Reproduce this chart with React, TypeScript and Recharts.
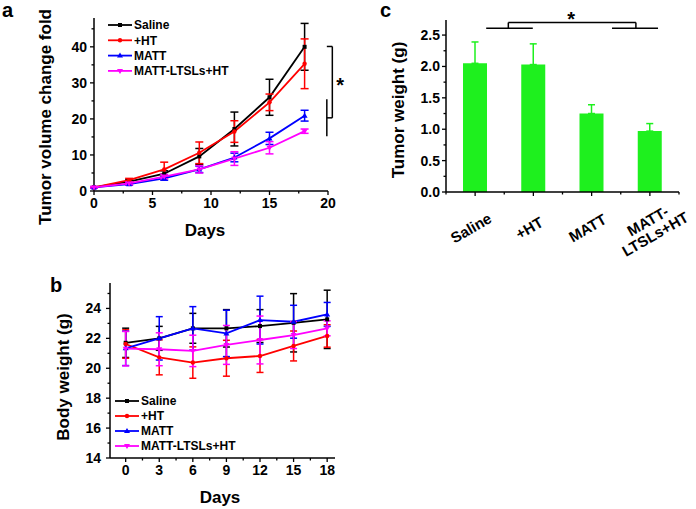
import React from "react";
import {
  LineChart,
  Line,
  BarChart,
  Bar,
  XAxis,
  YAxis,
  ErrorBar,
  Legend,
  Label,
  LabelList,
  ReferenceLine,
  ReferenceDot,
} from "recharts";

const FONT = "'Liberation Sans', Arial, Helvetica, sans-serif";

const groups = ["Saline", "+HT", "MATT", "MATT-LTSLs+HT"];
const groupColors = ["#000000", "#ff0000", "#0000ff", "#ff00ff"];
const groupMarkers = ["square", "circle", "up", "down"];

const days = [0, 3, 6, 9, 12, 15, 18];

// a: tumor volume change fold (mean, sd)
const volSaline = [1, 2.6, 4.8, 9.6, 17.2, 26, 40];
const volSalineSd = [0.2, 0.5, 0.8, 2.2, 4.7, 5.0, 6.5];
const volHT = [1, 3.0, 6.0, 10.6, 16.5, 24.6, 35.3];
const volHTSd = [0.2, 0.5, 2.0, 3.0, 3.0, 2.3, 6.9];
const volMATT = [1, 1.9, 3.5, 6.0, 9.3, 14.6, 20.9];
const volMATTSd = [0.2, 0.3, 0.5, 0.9, 1.2, 1.7, 1.5];
const volLTSL = [1, 2.1, 4.0, 6.0, 9.0, 12.0, 16.6];
const volLTSLSd = [0.2, 0.4, 0.6, 1.0, 1.9, 1.7, 0.6];

// b: body weight (g)
const bwSaline = [21.7, 22.0, 22.67, 22.67, 22.82, 23.04, 23.27];
const bwSalineSd = [0.98, 0.8, 1.0, 1.25, 1.1, 1.95, 1.95];
const bwHT = [21.62, 20.73, 20.38, 20.67, 20.82, 21.49, 22.16];
const bwHTSd = [0.95, 1.17, 1.05, 1.2, 1.1, 1.0, 0.75];
const bwMATT = [21.33, 22.0, 22.67, 22.33, 23.22, 23.11, 23.6];
const bwMATTSd = [1.15, 1.45, 1.45, 1.55, 1.6, 1.1, 0.8];
const bwLTSL = [21.31, 21.27, 21.16, 21.56, 21.89, 22.22, 22.67];
const bwLTSLSd = [1.15, 1.1, 1.05, 1.3, 1.6, 0.9, 0.5];

// c: tumor weight (g)
const weightLabels = [["Saline"], ["+HT"], ["MATT"], ["MATT-", "LTSLs+HT"]];
const weightMean = [2.05, 2.03, 1.25, 0.97];
const weightSd = [0.34, 0.33, 0.14, 0.12];

// ticks
const ticksAX = [0, 2.5, 5, 7.5, 10, 12.5, 15, 17.5, 20];
const majorAX = [0, 5, 10, 15, 20];
const ticksAY = [0, 5, 10, 15, 20, 25, 30, 35, 40, 45];
const majorAY = [0, 10, 20, 30, 40];
const ticksBX = [0, 1.5, 3, 4.5, 6, 7.5, 9, 10.5, 12, 13.5, 15, 16.5, 18];
const ticksBY = [14, 15, 16, 17, 18, 19, 20, 21, 22, 23, 24, 25];
const majorBY = [14, 16, 18, 20, 22, 24];
const ticksCX = [0.5, 1, 1.5, 2, 2.5, 3, 3.5, 4, 4.5];
const majorCX = [1, 2, 3, 4];
const ticksCY = [0, 0.25, 0.5, 0.75, 1, 1.25, 1.5, 1.75, 2, 2.25, 2.5];
const majorCY = [0, 0.5, 1, 1.5, 2, 2.5];

// significance brackets (data coordinates)
const bracketA = [
  [{ x: 19.9, y: 40.1 }, { x: 20.37, y: 40.1 }],
  [{ x: 20.37, y: 40.1 }, { x: 20.37, y: 20.3 }],
  [{ x: 19.9, y: 20.3 }, { x: 20.37, y: 20.3 }],
  [{ x: 19.9, y: 25.45 }, { x: 19.9, y: 15.2 }],
];
const starA = { x: 21.03, y: 30.6 };
const bracketC = [
  [{ x: 1.19, y: 2.61 }, { x: 1.99, y: 2.61 }],
  [{ x: 3.35, y: 2.61 }, { x: 4.14, y: 2.61 }],
  [{ x: 1.57, y: 2.7 }, { x: 3.76, y: 2.7 }],
  [{ x: 1.57, y: 2.61 }, { x: 1.57, y: 2.7 }],
  [{ x: 3.76, y: 2.61 }, { x: 3.76, y: 2.7 }],
];
const starC = { x: 2.65, y: 2.82 };

const volSeries = [volSaline, volHT, volMATT, volLTSL];
const volSd = [volSalineSd, volHTSd, volMATTSd, volLTSLSd];
const bwSeries = [bwSaline, bwHT, bwMATT, bwLTSL];
const bwSd = [bwSalineSd, bwHTSd, bwMATTSd, bwLTSLSd];

const buildRows = (series: number[][], sds: number[][]) =>
  days.map((d, i) => {
    const row: any = { day: d };
    series.forEach((s, k) => {
      row[`g${k}`] = s[i];
      row[`e${k}`] = sds[k][i];
    });
    return row;
  });

const rowsA = buildRows(volSeries, volSd);
const rowsB = buildRows(bwSeries, bwSd);
const rowsC = weightMean.map((m, i) => ({ pos: i + 1, w: m, wErr: [0, weightSd[i]] }));

function marker(shape: string, cx: number, cy: number, color: string, key?: any) {
  if (cx == null || cy == null) return <g key={key} />;
  if (shape === "square")
    return <rect key={key} x={cx - 2} y={cy - 2} width={4} height={4} fill={color} />;
  if (shape === "circle") return <circle key={key} cx={cx} cy={cy} r={2.2} fill={color} />;
  if (shape === "up")
    return <path key={key} d={`M${cx},${cy - 3}L${cx + 3},${cy + 2}L${cx - 3},${cy + 2}Z`} fill={color} />;
  return <path key={key} d={`M${cx},${cy + 3}L${cx + 3},${cy - 2}L${cx - 3},${cy - 2}Z`} fill={color} />;
}

const txt = { fontFamily: FONT, fontWeight: "bold" as const, fill: "#000" };

const xTick = (majors: number[], fs: number, gap: number, showText = true) => (p: any) => {
  const v = p.payload.value;
  const major = majors.includes(v);
  return (
    <g>
      <line x1={p.x} x2={p.x} y1={p.y} y2={p.y + (major ? 4 : 2.5)} stroke="#000" strokeWidth={1.3} />
      {major && showText && (
        <text x={p.x} y={p.y + gap} textAnchor="middle" fontSize={fs} {...txt}>
          {v}
        </text>
      )}
    </g>
  );
};

const yTick = (majors: number[], fs: number, gap: number, fmt: (v: number) => string) => (p: any) => {
  const v = p.payload.value;
  const major = majors.includes(v);
  return (
    <g>
      <line x1={p.x} x2={p.x - (major ? 4 : 2.5)} y1={p.y} y2={p.y} stroke="#000" strokeWidth={1.3} />
      {major && (
        <text x={p.x - gap} y={p.y} dy="0.36em" textAnchor="end" fontSize={fs} {...txt}>
          {fmt(v)}
        </text>
      )}
    </g>
  );
};

// slanted category names, hung under each bar
const catLabel = (p: any) => {
  const lines = weightLabels[p.index] || [];
  const two = lines.length > 1;
  const ox = p.x + p.width / 2 + (two ? -2 : -4);
  const oy = p.y + p.height + (two ? 29 : 36);
  return (
    <g key={`cat-${p.index}`}>
      {lines.map((l, i) => (
        <text
          key={l}
          x={ox}
          y={oy + i * 15}
          dy="0.36em"
          transform={`rotate(-30 ${ox} ${oy})`}
          textAnchor="middle"
          fontSize={15}
          {...txt}
        >
          {l}
        </text>
      ))}
    </g>
  );
};

const vTitle = (text: string, cx: number, dy: number) => (props: any) => {
  const vb = props.viewBox;
  const x = vb.x + cx;
  const y = vb.y + vb.height / 2 + dy;
  return (
    <text x={x} y={y} dy="0.36em" transform={`rotate(-90 ${x} ${y})`} textAnchor="middle" fontSize={17} {...txt}>
      {text}
    </text>
  );
};

const hTitle = (text: string, dx: number, base: number) => (props: any) => {
  const vb = props.viewBox;
  return (
    <text x={vb.x + vb.width / 2 + dx} y={vb.y + base} textAnchor="middle" fontSize={17} {...txt}>
      {text}
    </text>
  );
};

function LegendBox({ step }: { step: number }) {
  return (
    <svg width={170} height={step * 4 + 4} style={{ display: "block" }}>
      {groups.map((g, i) => {
        const y = 7 + i * step;
        return (
          <g key={g}>
            <line x1={3} x2={27} y1={y} y2={y} stroke={groupColors[i]} strokeWidth={1.8} />
            {marker(groupMarkers[i], 15, y, groupColors[i])}
            <text x={29} y={y} dy="0.36em" fontSize={12} {...txt}>
              {g}
            </text>
          </g>
        );
      })}
    </svg>
  );
}

const axisLine = { stroke: "#000", strokeWidth: 1.5 };

function seriesLines(capWidth: number) {
  return groups.map((g, i) => (
    <Line
      key={g}
      type="linear"
      dataKey={`g${i}`}
      name={g}
      stroke={groupColors[i]}
      strokeWidth={1.8}
      isAnimationActive={false}
      activeDot={false}
      dot={(p: any) => marker(groupMarkers[i], p.cx, p.cy, groupColors[i], `${g}-${p.index}`)}
    >
      <ErrorBar dataKey={`e${i}`} width={capWidth} strokeWidth={1.5} stroke={groupColors[i]} direction="y" />
    </Line>
  ));
}

function PanelA() {
  return (
    <LineChart width={350} height={250} data={rowsA} margin={{ top: 18, right: 22, bottom: 4, left: 0 }}>
      <XAxis
        type="number"
        dataKey="day"
        domain={[0, 20]}
        ticks={ticksAX}
        interval={0}
        height={55}
        tickSize={0}
        tickMargin={0}
        tickLine={false}
        axisLine={axisLine}
        tick={xTick(majorAX, 14, 17)}
      >
        <Label content={hTitle("Days", -6, 45)} />
      </XAxis>
      <YAxis
        type="number"
        domain={[0, 48]}
        ticks={ticksAY}
        interval={0}
        width={94}
        tickSize={0}
        tickMargin={0}
        tickLine={false}
        axisLine={axisLine}
        tick={yTick(majorAY, 14, 7, (v) => String(v))}
      >
        <Label content={vTitle("Tumor volume change fold", 45, 12.5)} />
      </YAxis>
      <Legend
        layout="vertical"
        align="center"
        verticalAlign="middle"
        content={() => <LegendBox step={15.3} />}
        wrapperStyle={{ left: 105, top: 18, width: 170, height: 66 }}
      />
      {seriesLines(4)}
      {bracketA.map((s, i) => (
        <ReferenceLine key={i} segment={s} stroke="#000" strokeWidth={1.5} ifOverflow="visible" />
      ))}
      <ReferenceDot
        x={starA.x}
        y={starA.y}
        r={0}
        fill="none"
        stroke="none"
        ifOverflow="visible"
        label={{ value: "*", position: "center", fontSize: 20, fontWeight: "bold", fill: "#000", fontFamily: FONT, dy: 4 }}
      />
    </LineChart>
  );
}

function PanelB() {
  return (
    <LineChart width={350} height={259} data={rowsB} margin={{ top: 33, right: 15, bottom: 4, left: 0 }}>
      <XAxis
        type="number"
        dataKey="day"
        domain={[-1.4, 18.7]}
        ticks={ticksBX}
        interval={0}
        height={47}
        tickSize={0}
        tickMargin={0}
        tickLine={false}
        axisLine={axisLine}
        tick={xTick(days, 14, 17)}
      >
        <Label content={hTitle("Days", -2.5, 45)} />
      </XAxis>
      <YAxis
        type="number"
        domain={[14, 25.7]}
        ticks={ticksBY}
        interval={0}
        width={110}
        tickSize={0}
        tickMargin={0}
        tickLine={false}
        axisLine={axisLine}
        tick={yTick(majorBY, 14, 9, (v) => String(v))}
      >
        <Label content={vTitle("Body weight (g)", 63, 6.5)} />
      </YAxis>
      <Legend
        layout="vertical"
        align="center"
        verticalAlign="middle"
        content={() => <LegendBox step={15} />}
        wrapperStyle={{ left: 112, top: 144, width: 170, height: 64 }}
      />
      {seriesLines(3.5)}
    </LineChart>
  );
}

function PanelC() {
  return (
    <BarChart width={346} height={260} data={rowsC} margin={{ top: 20, right: 17, bottom: 0, left: 0 }}>
      <XAxis
        type="number"
        dataKey="pos"
        domain={[0.5, 4.5]}
        ticks={ticksCX}
        interval={0}
        height={68}
        tickSize={0}
        tickMargin={0}
        tickLine={false}
        axisLine={axisLine}
        tick={xTick(majorCX, 14, 17, false)}
      />
      <YAxis
        type="number"
        domain={[0, 2.74]}
        ticks={ticksCY}
        interval={0}
        width={96}
        tickSize={0}
        tickMargin={0}
        tickLine={false}
        axisLine={axisLine}
        tick={yTick(majorCY, 14, 6, (v) => v.toFixed(1))}
      >
        <Label content={vTitle("Tumor weight (g)", 48, 4)} />
      </YAxis>
      <Bar dataKey="w" fill="#1ef01e" barSize={24} isAnimationActive={false}>
        <ErrorBar dataKey="wErr" width={3.5} strokeWidth={1.5} stroke="#1ef01e" direction="y" />
        <LabelList dataKey="pos" content={catLabel} />
      </Bar>
      {bracketC.map((s, i) => (
        <ReferenceLine key={i} segment={s} stroke="#000" strokeWidth={1.5} ifOverflow="visible" />
      ))}
      <ReferenceDot
        x={starC.x}
        y={starC.y}
        r={0}
        fill="none"
        stroke="none"
        ifOverflow="visible"
        label={{ value: "*", position: "center", fontSize: 20, fontWeight: "bold", fill: "#000", fontFamily: FONT, dy: 4 }}
      />
    </BarChart>
  );
}

export default function App() {
  return (
    <div style={{ position: "absolute", left: 0, top: 0, width: 696, height: 509, background: "#fff", fontFamily: FONT }}>
      <div style={{ position: "absolute", left: 0, top: 0 }}>
        <PanelA />
      </div>
      <div style={{ position: "absolute", left: 0, top: 250 }}>
        <PanelB />
      </div>
      <div style={{ position: "absolute", left: 350, top: 0 }}>
        <PanelC />
      </div>
      <svg width={696} height={509} style={{ position: "absolute", left: 0, top: 0, pointerEvents: "none" }}>
        <text x={2} y={17} fontSize={20} {...txt}>a</text>
        <text x={50} y={292} fontSize={20} {...txt}>b</text>
        <text x={380} y={17} fontSize={20} {...txt}>c</text>
      </svg>
    </div>
  );
}
